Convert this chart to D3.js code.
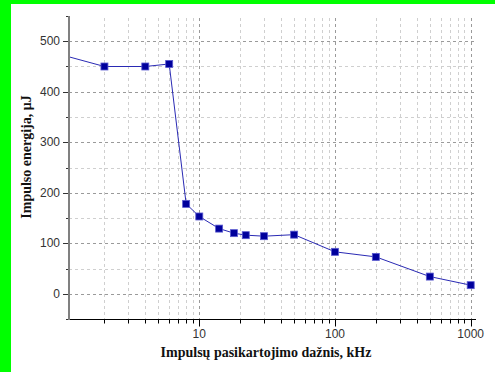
<!DOCTYPE html>
<html>
<head>
<meta charset="utf-8">
<script src="https://cdn.jsdelivr.net/npm/d3@7"></script>
<style>
  body { margin: 0; background: #fff; }
  svg { display: block; }
</style>
</head>
<body>
<div id="chart"></div>
<script>
// pulse repetition frequency, kHz
const freq = [1, 2, 4, 6, 8, 10, 14, 18, 22, 30, 50, 100, 200, 500, 1000]
// pulse energy, uJ
const energy = [472, 450, 450, 455, 178, 153, 129, 120, 116, 114, 117, 83, 73, 34, 17]

const xTickLabels = [10, 100, 1000]
const yTickLabels = [0, 100, 200, 300, 400, 500]

const width = 495,
  height = 372

const svg = d3.select("#chart").append("svg").attr("width", width).attr("height", height)

// green frame bits
svg.append("rect").attr("x", 0).attr("y", 0).attr("width", width).attr("height", 4).attr("fill", "#00ff00")
svg.append("rect").attr("x", 0).attr("y", 0).attr("width", 11).attr("height", height).attr("fill", "#00ff00")

const x = d3.scaleLog().domain([1.096, 1076]).range([69, 475])
const y = d3.scaleLinear().domain([-50, 550]).range([319, 16])

// all log ticks 2..9 per decade
const xMinor = []
for (let d = 1; d <= 100; d *= 10) {
  for (let k = 2; k <= 9; k++) xMinor.push(k * d)
}
const xMajor = xTickLabels
const yAll = d3.range(0, 501, 50)

// grid
const grid = svg.append("g")
grid
  .selectAll(".vg")
  .data(xMinor.concat(xMajor))
  .enter()
  .append("line")
  .attr("x1", (d) => Math.round(x(d)) + 0.5)
  .attr("x2", (d) => Math.round(x(d)) + 0.5)
  .attr("y1", 18)
  .attr("y2", 319)
  .attr("stroke", (d) => (xMajor.includes(d) ? "#9a9a9a" : "#cfcfcf"))
  .attr("stroke-dasharray", "3,3")

grid
  .selectAll(".hg")
  .data(yAll)
  .enter()
  .append("line")
  .attr("x1", 69)
  .attr("x2", 476)
  .attr("y1", (d) => Math.round(y(d)) + 0.5)
  .attr("y2", (d) => Math.round(y(d)) + 0.5)
  .attr("stroke", (d) => (d % 100 === 0 ? "#9a9a9a" : "#cfcfcf"))
  .attr("stroke-dasharray", "3,3")

// x axis
const xAxis = svg.append("g").attr("transform", "translate(0,319.5)")
xAxis.append("line").attr("x1", 66).attr("x2", 476).attr("stroke", "#000")
xAxis
  .selectAll(".xt")
  .data(xMinor.concat(xMajor))
  .enter()
  .append("line")
  .attr("x1", (d) => Math.round(x(d)) + 0.5)
  .attr("x2", (d) => Math.round(x(d)) + 0.5)
  .attr("y1", 0)
  .attr("y2", (d) => (xMajor.includes(d) ? 7 : 4))
  .attr("stroke", "#000")
xAxis
  .selectAll(".xl")
  .data(xTickLabels)
  .enter()
  .append("text")
  .attr("x", (d) => x(d))
  .attr("y", 18)
  .attr("text-anchor", "middle")
  .style("font", "12px 'Liberation Sans', Arial, sans-serif")
  .style("fill", "#333")
  .text((d) => d)

// y axis
const yAxis = svg.append("g")
yAxis
  .selectAll(".yt")
  .data(d3.range(-50, 551, 50))
  .enter()
  .append("line")
  .attr("x1", (d) => (d % 100 === 0 ? 63 : 66))
  .attr("x2", 69)
  .attr("y1", (d) => Math.round(y(d)) + 0.5)
  .attr("y2", (d) => Math.round(y(d)) + 0.5)
  .attr("stroke", "#333")
yAxis.append("line").attr("x1", 69).attr("x2", 69).attr("y1", 16).attr("y2", 320).attr("stroke", "#808080").attr("stroke-width", 2)
yAxis
  .selectAll(".yl")
  .data(yTickLabels)
  .enter()
  .append("text")
  .attr("x", 60)
  .attr("y", (d) => y(d) + 4)
  .attr("text-anchor", "end")
  .style("font", "12px 'Liberation Sans', Arial, sans-serif")
  .style("fill", "#333")
  .text((d) => d)

// axis titles
svg
  .append("text")
  .attr("transform", "translate(31,157) rotate(-90)")
  .attr("text-anchor", "middle")
  .style("font", "bold 14px 'Liberation Serif', 'Times New Roman', serif")
  .style("fill", "#111")
  .text("Impulso energija, μJ")

svg
  .append("text")
  .attr("x", 266)
  .attr("y", 357)
  .attr("text-anchor", "middle")
  .style("font", "bold 14px 'Liberation Serif', 'Times New Roman', serif")
  .style("fill", "#111")
  .text("Impulsų pasikartojimo dažnis, kHz")

// data
svg.append("clipPath").attr("id", "plot-clip").append("rect").attr("x", 70).attr("y", 16).attr("width", 406).attr("height", 303)

const points = freq.map((f, i) => ({ f: f, e: energy[i] }))
const plot = svg.append("g").attr("clip-path", "url(#plot-clip)")

plot
  .append("path")
  .datum(points)
  .attr("fill", "none")
  .attr("stroke", "#2a2ab4")
  .attr("stroke-width", 1)
  .attr("d", d3.line().x((d) => x(d.f)).y((d) => y(d.e)))

plot
  .selectAll(".pt")
  .data(points)
  .enter()
  .append("rect")
  .attr("x", (d) => x(d.f) - 3.5)
  .attr("y", (d) => y(d.e) - 3.5)
  .attr("width", 7)
  .attr("height", 7)
  .attr("fill", "#00009c")
  .attr("stroke", "#5a5ad0")
  .attr("stroke-width", 0.8)
</script>
</body>
</html>
